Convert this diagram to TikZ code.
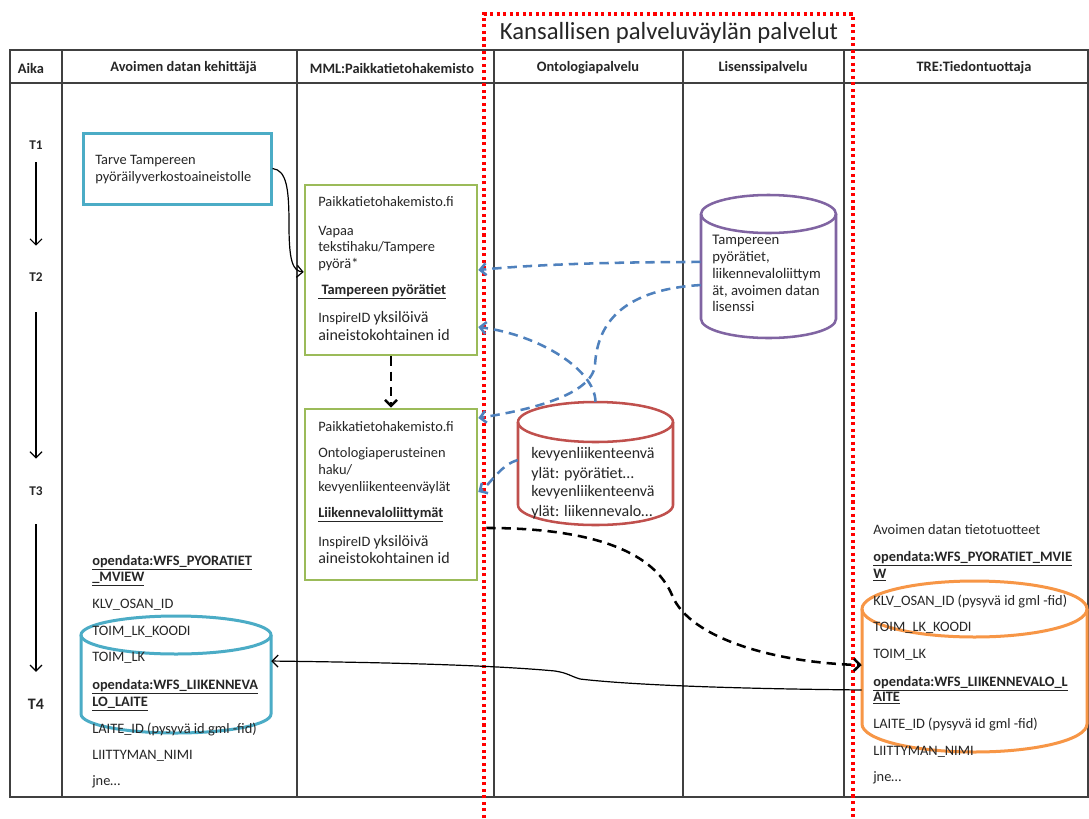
\documentclass[tikz,border=0pt]{standalone}
\usepackage{fontspec}
\setmainfont{Carlito}
\usetikzlibrary{arrows.meta}
\definecolor{cTeal}{HTML}{4BACC6}
\definecolor{cGreen}{HTML}{9BBB59}
\definecolor{cPurple}{HTML}{8064A2}
\definecolor{cRed}{HTML}{C0504D}
\definecolor{cOrange}{HTML}{F79646}
\definecolor{cBlue}{HTML}{4F81BD}
\definecolor{cTxt}{HTML}{262626}
\definecolor{cLine}{HTML}{404040}
\newcommand\myul[1]{\underline{\textbf{#1}}}
\begin{document}
\begin{tikzpicture}[x=0.75pt,y=-0.75pt,
 tbl/.style={draw=cLine, line width=1.1pt},
 txt/.style={anchor=west, inner sep=0pt, text=cTxt, font=\fontsize{10.8}{13}\selectfont, text height=7.6pt, text depth=2.4pt},
 big/.style={txt, font=\fontsize{12}{14}\selectfont},
 hdr/.style={inner sep=0pt, text=cTxt, font=\fontsize{10.8}{13}\selectfont\bfseries},
 tlab/.style={inner sep=0pt, text=cTxt, font=\fontsize{10}{12}\selectfont\bfseries},
 gbox/.style={draw=cGreen, line width=1.9pt, minimum width=129pt, minimum height=127.5pt, inner sep=0pt},
 cylnode/.style={inner sep=0pt, draw=none},
 kline/.style={draw=black, line width=0.9pt},
 barb/.style={-{Straight Barb[length=4.5pt,width=9pt]}},
 kdash/.style={draw=black, line width=1.9pt, dash pattern=on 7pt off 4.5pt, barb},
 bdash/.style={draw=cBlue, line width=1.9pt, dash pattern=on 7pt off 4.5pt, barb},
 reddot/.style={draw=red, line width=2.3pt, dash pattern=on 2.3pt off 2.6pt},
]
\useasboundingbox (0,0) rectangle (1089,818);
\fill[white] (0,0) rectangle (1089,818);

% table
\draw[tbl] (10,50) rectangle (1088,797);
\draw[tbl] (10,83) -- (1088,83);
\foreach \x in {62,297,494,683,844} \draw[tbl] (\x,50) -- (\x,797);

% red dotted frame
\draw[reddot] (484,818) -- (484,14) -- (853,14) -- (853,818);
\node[inner sep=0pt, text=cTxt, font=\fontsize{18.5}{22}\selectfont] (title) at (669,33) {Kansallisen palveluväylän palvelut};

% headers
\node[hdr] (hA) at (31,68) {Aika};
\node[hdr] (hB) at (183.5,68) {Avoimen datan kehittäjä};
\node[hdr] (hC) at (392,68) {MML:Paikkatietohakemisto};
\node[hdr] (hD) at (588,68) {Ontologiapalvelu};
\node[hdr] (hE) at (763,68) {Lisenssipalvelu};
\node[hdr] (hF) at (974,68) {TRE:Tiedontuottaja};

% time axis
\node[tlab] (t1) at (36,145) {T1};
\node[tlab] (t2) at (36,277) {T2};
\node[tlab] (t3) at (36,491) {T3};
\node[tlab, font=\fontsize{12}{14}\selectfont\bfseries] (t4) at (36,704) {T4};
\draw[kline, barb, shorten <=9.5pt, shorten >=20pt] (t1.south) -- (t2.north);
\draw[kline, barb, shorten <=23pt, shorten >=20.8pt] (t2.south) -- (t3.north);
\draw[kline, barb, shorten <=21.5pt, shorten >=20pt] (t3.south) -- (t4.north);

% need box
\node[draw=cTeal, line width=2.25pt, minimum width=141pt, minimum height=53.25pt, inner sep=0pt] (b1) at (177,168.5) {};
\node[txt] (b1a) at (95,161) {Tarve Tampereen};
\node[txt] (b1b) at (95,178) {pyöräilyverkostoaineistolle};

% green boxes
\node[gbox] (g1) at (391,270) {};
\node[txt] (g1a) at (318,203) {Paikkatietohakemisto.fi};
\node[txt] (g1b) at (318,232) {Vapaa};
\node[txt] (g1c) at (318,248) {tekstihaku/Tampere};
\node[txt] (g1d) at (318,265) {pyörä*};
\node[txt] (g1e) at (318,291) {\myul{\ Tampereen pyörätiet}};
\node[txt] (g1f) at (318,319) {InspireID {\fontsize{12}{14}\selectfont yksilöivä}};
\node[big] (g1g) at (318,337) {aineistokohtainen id};

\node[gbox, minimum height=128.25pt] (g2) at (391,494.5) {};
\node[txt] (g2a) at (318,428) {Paikkatietohakemisto.fi};
\node[txt] (g2b) at (318,454) {Ontologiaperusteinen};
\node[txt] (g2c) at (318,471) {haku/};
\node[txt] (g2d) at (318,488) {kevyenliikenteenväylät};
\node[txt] (g2e) at (318,514) {\myul{Liikennevaloliittymät}};
\node[txt] (g2f) at (318,543) {InspireID {\fontsize{12}{14}\selectfont yksilöivä}};
\node[big] (g2g) at (318,560) {aineistokohtainen id};

% purple cylinder (license)
\draw[draw=cPurple, line width=1.9pt] (701,214) -- (701,319) arc[start angle=180, end angle=360, x radius=50.625pt, y radius=14.25pt] -- (836,214);
\draw[draw=cPurple, line width=1.9pt] (768.5,214) ellipse [x radius=50.625pt, y radius=14.25pt];
\node[cylnode, minimum width=101.25pt, minimum height=107.25pt] (lic) at (768.5,266.5) {};
\begin{scope}[every node/.style={txt, font=\fontsize{11}{13}\selectfont}]
\node (l1) at (712,241) {Tampereen};
\node (l2) at (712,258) {pyörätiet,};
\node (l3) at (712,275) {liikennevaloliittym};
\node (l4) at (712,292) {ät, avoimen datan};
\node (l5) at (712,308) {lisenssi};
\end{scope}

% red cylinder (ontology)
\draw[draw=cRed, line width=1.9pt] (518,422) -- (518,505) arc[start angle=180, end angle=360, x radius=58.125pt, y radius=15pt] -- (673,422);
\draw[draw=cRed, line width=1.9pt] (595.5,422) ellipse [x radius=58.125pt, y radius=15pt];
\node[cylnode, minimum width=116.25pt, minimum height=92.25pt] (ont) at (595.5,463.5) {};
\begin{scope}[every node/.style={txt, font=\fontsize{12}{14}\selectfont}]
\node (o1) at (531,455) {kevyenliikenteenvä};
\node (o2) at (531,475) {ylät: pyörätiet…};
\node (o3) at (531,493) {kevyenliikenteenvä};
\node (o4) at (531,513) {ylät: liikennevalo…};
\end{scope}

% blue cylinder (developer)
\draw[draw=cTeal, line width=2.25pt] (81,635) -- (81,714) arc[start angle=180, end angle=360, x radius=71.25pt, y radius=14.25pt] -- (271,635);
\draw[draw=cTeal, line width=2.25pt] (176,635) ellipse [x radius=71.25pt, y radius=14.25pt];
\node[cylnode, minimum width=142.5pt, minimum height=87.75pt] (dev) at (176,674.5) {};
\node[txt] (d1) at (92,562) {\myul{opendata:WFS\_PYORATIET}};
\node[txt] (d2) at (92,578) {\myul{\_MVIEW}};
\node[txt] (d3) at (92,605) {KLV\_OSAN\_ID};
\node[txt] (d4) at (92,632) {TOIM\_LK\_KOODI};
\node[txt] (d5) at (92,658) {TOIM\_LK};
\node[txt] (d6) at (92,686) {\myul{opendata:WFS\_LIIKENNEVA}};
\node[txt] (d7) at (92,703) {\myul{LO\_LAITE}};
\node[txt] (d8) at (92,730) {LAITE\_ID (pysyvä id gml -fid)};
\node[txt] (d9) at (92,756) {LIITTYMAN\_NIMI};
\node[txt] (d10) at (92,782) {jne…};

% orange cylinder (producer)
\draw[draw=cOrange, line width=2.25pt] (862,609) -- (862,724) arc[start angle=180, end angle=360, x radius=84.375pt, y radius=21pt] -- (1087,609);
\draw[draw=cOrange, line width=2.25pt] (974.5,609) ellipse [x radius=84.375pt, y radius=21pt];
\node[cylnode, minimum width=168.75pt, minimum height=128.25pt] (dat) at (974.5,666.5) {};
\node[txt] (r0) at (873,531) {Avoimen datan tietotuotteet};
\node[txt] (r1) at (873,558) {\myul{opendata:WFS\_PYORATIET\_MVIE}};
\node[txt] (r2) at (873,575) {\myul{W}};
\node[txt] (r3) at (873,602) {KLV\_OSAN\_ID (pysyvä id gml -fid)};
\node[txt] (r4) at (873,628) {TOIM\_LK\_KOODI};
\node[txt] (r5) at (873,655) {TOIM\_LK};
\node[txt] (r6) at (873,683) {\myul{opendata:WFS\_LIIKENNEVALO\_L}};
\node[txt] (r7) at (873,698) {\myul{AITE}};
\node[txt] (r8) at (873,725) {LAITE\_ID (pysyvä id gml -fid)};
\node[txt] (r9) at (873,752) {LIITTYMAN\_NIMI};
\node[txt] (r10) at (873,778) {jne…};

% connectors
\draw[kline, barb] (b1.east) .. controls (287,170) and (289,190) .. (289,225) .. controls (289,262) and (293,271) .. ([yshift=-1.5pt]g1.west);
\draw[kdash] (g1.south) -- (g2.north);
\draw[bdash] ([yshift=3.4pt]lic.west) .. controls (620,262) and (540,264) .. (g1.east);
\draw[bdash] ([yshift=-13.9pt]lic.west) .. controls (615,290) and (597,330) .. (595,365) .. controls (592,395) and (530,410) .. ([yshift=57.4pt]g2.east);
\draw[bdash] (ont.north) .. controls (595,370) and (540,335) .. ([yshift=-42.75pt]g1.east);
\draw[bdash] ([yshift=2.6pt]ont.west) .. controls (500,465) and (490,485) .. ([yshift=1.9pt]g2.east);
\draw[kdash] ([xshift=6pt,yshift=-25.1pt]g2.east) .. controls (600,528) and (655,555) .. (672,595) .. controls (690,640) and (780,663) .. ([yshift=1.1pt]dat.west);
\draw[kline, barb] ([yshift=-17.6pt]dat.west) .. controls (760,689) and (640,686) .. (580,679) .. controls (570,676) and (568,673) .. (555,671) .. controls (480,664) and (350,662) .. ([yshift=10.1pt]dev.east);
\end{tikzpicture}
\end{document}
